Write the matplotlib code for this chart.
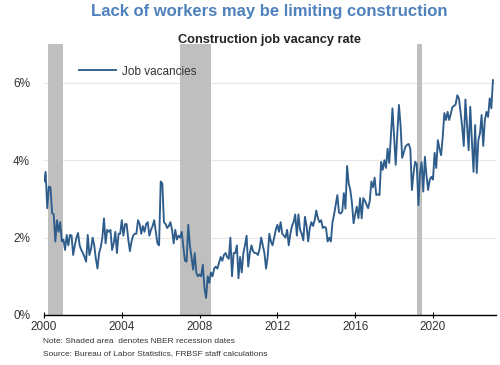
import numpy as np
import matplotlib
matplotlib.use("Agg")
import matplotlib.pyplot as plt

plt.rcParams['font.family'] = ['Liberation Sans', 'DejaVu Sans']

# monthly construction job vacancy rate (%), Jan 2000 onwards
vac_2000 = [3.45, 3.7, 2.76, 3.32, 3.3, 2.63, 2.6, 1.9, 2.45, 2.15, 2.4, 1.9]
vac_2001 = [1.95, 1.68, 2.07, 1.8, 2.07, 2.05, 1.55, 1.8, 2.0, 2.12, 1.8, 1.68]
vac_2002 = [1.6, 1.5, 1.38, 2.07, 1.55, 1.7, 2.0, 1.8, 1.45, 1.2, 1.6, 1.75]
vac_2003 = [2.0, 2.5, 1.85, 2.2, 2.15, 2.2, 1.68, 1.85, 2.15, 1.6, 2.1, 2.1]
vac_2004 = [2.45, 2.05, 2.35, 2.35, 1.95, 1.65, 1.9, 2.05, 2.1, 2.1, 2.45, 2.35]
vac_2005 = [2.1, 2.3, 2.15, 2.35, 2.4, 2.05, 2.2, 2.3, 2.45, 2.15, 1.85, 1.8]
vac_2006 = [3.45, 3.4, 2.4, 2.35, 2.25, 2.3, 2.4, 2.2, 1.85, 2.2, 1.95, 2.05]
vac_2007 = [2.0, 2.15, 1.75, 1.4, 1.38, 2.33, 1.8, 1.5, 1.17, 1.6, 1.08, 1.0]
vac_2008 = [1.05, 1.0, 1.3, 0.7, 0.44, 1.0, 0.83, 1.1, 1.0, 1.2, 1.25, 1.2]
vac_2009 = [1.35, 1.5, 1.4, 1.55, 1.6, 1.5, 1.45, 2.0, 1.0, 1.6, 1.6, 1.8]
vac_2010 = [0.95, 1.5, 1.1, 1.6, 1.8, 2.05, 1.25, 1.6, 1.8, 1.65, 1.6, 1.6]
vac_2011 = [1.55, 1.7, 2.0, 1.8, 1.6, 1.2, 1.5, 2.1, 1.9, 1.8, 2.0, 2.2]
vac_2012 = [2.33, 2.15, 2.4, 2.1, 2.05, 2.0, 2.2, 1.8, 2.1, 2.3, 2.4, 2.6]
vac_2013 = [2.05, 2.6, 2.2, 2.1, 1.93, 2.54, 2.3, 1.9, 2.25, 2.4, 2.3, 2.45]
vac_2014 = [2.7, 2.5, 2.4, 2.45, 2.25, 2.28, 2.25, 1.9, 2.0, 1.9, 2.4, 2.6]
vac_2015 = [2.85, 3.1, 2.65, 2.62, 2.67, 3.15, 2.75, 3.85, 3.4, 3.23, 2.9, 2.37]
vac_2016 = [2.6, 2.8, 2.5, 3.02, 2.5, 3.02, 2.95, 2.85, 2.76, 2.95, 3.45, 3.3]
vac_2017 = [3.55, 3.1, 3.12, 3.1, 3.96, 3.75, 4.0, 3.8, 4.3, 3.93, 4.6, 5.34]
vac_2018 = [4.6, 3.88, 4.7, 5.43, 4.9, 4.06, 4.2, 4.35, 4.4, 4.42, 4.3, 3.23]
vac_2019 = [3.67, 3.96, 3.9, 2.84, 3.67, 3.95, 3.19, 4.09, 3.6, 3.23, 3.5, 3.57]
vac_2020 = [3.5, 4.19, 3.8, 4.52, 4.3, 4.13, 4.6, 5.22, 5.04, 5.25, 5.04, 5.2]
vac_2021 = [5.38, 5.4, 5.45, 5.68, 5.6, 5.25, 4.87, 4.37, 5.57, 4.9, 4.26, 5.38]
vac_2022 = [4.5, 3.7, 4.91, 3.67, 4.52, 4.7, 5.17, 4.37, 5.04, 5.25, 5.12, 5.6]
vac_2023 = [5.34, 6.07]

vacancies = (vac_2000 + vac_2001 + vac_2002 + vac_2003 + vac_2004 + vac_2005
             + vac_2006 + vac_2007 + vac_2008 + vac_2009 + vac_2010 + vac_2011
             + vac_2012 + vac_2013 + vac_2014 + vac_2015 + vac_2016 + vac_2017
             + vac_2018 + vac_2019 + vac_2020 + vac_2021 + vac_2022 + vac_2023)
dates = 2000 + np.arange(len(vacancies)) / 12.0

# shaded recession bands as drawn (decimal years)
rec_start = [2000.22, 2006.99, 2019.2]
rec_end = [2000.96, 2008.57, 2019.44]

year_ticks = [2000, 2004, 2008, 2012, 2016, 2020]
pct_ticks = [0, 2, 4, 6]

fig = plt.figure(figsize=(5, 3.65), dpi=100)
ax = fig.add_axes([0.088, 0.137, 0.904, 0.742])

for s, e in zip(rec_start, rec_end):
    ax.axvspan(s, e, color='#bfbfbf', lw=0, zorder=1)

ax.plot(dates, vacancies, color='#2e5d8c', lw=1.35, label='Job vacancies', zorder=3)

ax.set_xlim(2000, 2023.24)
ax.set_ylim(0, 7)
ax.set_xticks(year_ticks)
ax.set_xticklabels([str(y) for y in year_ticks])
ax.set_yticks(pct_ticks)
ax.set_yticklabels([f"{p}%" for p in pct_ticks])
ax.grid(axis='y', color='#e6e6e6', lw=0.8, zorder=0)
ax.set_axisbelow(True)

for side in ['top', 'right', 'left']:
    ax.spines[side].set_visible(False)
ax.spines['bottom'].set_color('black')
ax.spines['bottom'].set_linewidth(1.0)
ax.tick_params(axis='y', length=0, labelsize=8.5, colors='#333333', pad=10)
ax.tick_params(axis='x', length=4, direction='inout', labelsize=8.5,
               colors='black', labelcolor='#333333', pad=2)

leg = ax.legend(loc='upper left', bbox_to_anchor=(0.055, 0.96), frameon=False,
                fontsize=8.5, handlelength=3.1, handletextpad=0.5)
for t in leg.get_texts():
    t.set_color('#333333')

fig.text(0.538, 0.99, "Lack of workers may be limiting construction",
         ha='center', va='top', fontsize=12, fontweight='bold', color='#4f81bd')
fig.text(0.538, 0.907, "Construction job vacancy rate",
         ha='center', va='top', fontsize=9.2, fontweight='bold', color='#222222')

fig.text(0.086, 0.055, "Note: Shaded area  denotes NBER recession dates",
         ha='left', va='bottom', fontsize=6.0, color='#333333')
fig.text(0.086, 0.022, "Source: Bureau of Labor Statistics, FRBSF staff calculations",
         ha='left', va='bottom', fontsize=6.0, color='#333333')

fig.savefig('out.png', dpi=100)
